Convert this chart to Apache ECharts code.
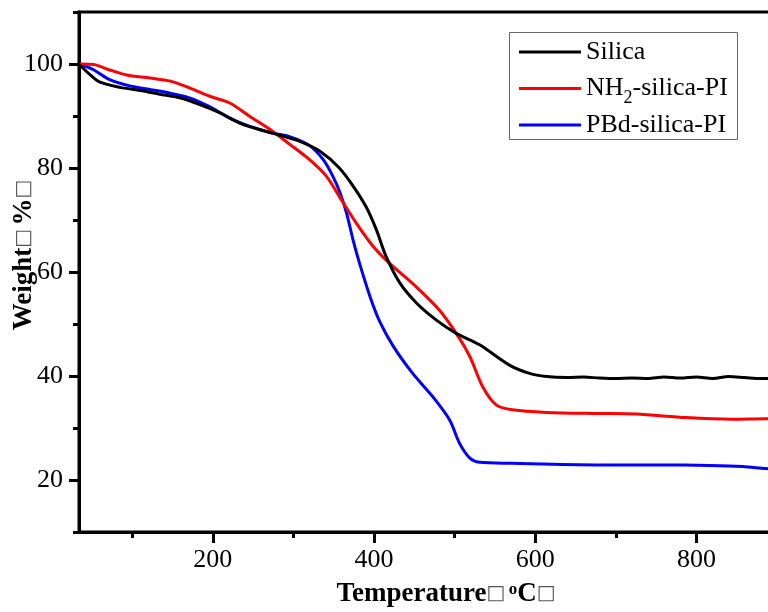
<!DOCTYPE html>
<html>
<head>
<meta charset="utf-8">
<script src="https://cdn.jsdelivr.net/npm/echarts@6/dist/echarts.min.js"></script>
<style>html,body{margin:0;padding:0;background:#fff;}#c{width:768px;height:612px;}</style>
</head>
<body>
<div id="c"></div>
<script>
const seriesNames = ['Silica', 'NH2-silica-PI', 'PBd-silica-PI'];
const seriesColors = ['#000000', '#ff0000', '#0000ff'];

const tSilica = [35,48,60,85,110,134,159,184,209,234,258,283,308,333,357,376,391,403,415,432,453,477,502,531,568,593,614,640,660,680,700,720,740,760,780,800,820,840,860,880,900];
const wSilica = [99.8,97.9,96.5,95.5,94.9,94.2,93.5,92.2,90.6,88.6,87.4,86.3,85.1,83.2,80.0,76.1,72.3,68.1,63.0,57.9,54.0,50.8,48.2,46.0,42.1,40.5,39.9,39.7,39.8,39.6,39.5,39.6,39.5,39.8,39.6,39.8,39.5,39.9,39.7,39.5,39.5];

const tNH2 = [35,52,73,93,122,147,171,196,221,246,271,296,320,341,357,378,399,419,452,481,502,519,535,552,572,614,676,725,787,845,886,900];
const wNH2 = [100,99.9,98.8,97.9,97.3,96.7,95.4,93.8,92.5,89.9,87.4,84.5,81.6,78.4,74.5,69.4,64.9,61.7,57.2,52.7,48.2,43.7,37.9,34.4,33.5,33.0,32.8,32.7,32.0,31.7,31.8,31.8];

const tPBd = [35,52,72,97,122,147,171,196,221,246,271,296,320,337,349,358,366,374,382,395,407,424,448,473,494,506,519,531,572,676,754,816,857,886,900];
const wPBd = [100,98.9,97.0,95.8,95.1,94.4,93.5,91.8,89.6,88.0,86.8,86.0,84.3,81.6,78.4,75.2,71.3,66.2,61.7,55.3,50.5,45.7,40.5,36.0,31.5,27.1,24.2,23.4,23.2,22.9,22.9,22.8,22.6,22.2,22.1];

const xMajorTicks = [200, 400, 600, 800];
const xMinorTicks = [100, 300, 500, 700];
const yMajorTicks = [20, 40, 60, 80, 100];
const yMinorTicks = [10, 30, 50, 70, 90, 110];

const FONT = 'Liberation Serif, Times New Roman, serif';
const pairs = (xs, ys) => xs.map((x, i) => [x, ys[i]]);
const allData = [pairs(tSilica, wSilica), pairs(tNH2, wNH2), pairs(tPBd, wPBd)];

const chart = echarts.init(document.getElementById('c'), null, {renderer: 'canvas'});

const legendBase = {
  orient: 'vertical', left: 519, padding: 0, itemWidth: 62, itemHeight: 3,
  icon: 'rect', selectedMode: false, itemGap: 0,
  textStyle: {fontFamily: FONT, fontSize: 26, lineHeight: 26, color: '#000'}
};

const option = {
  animation: false,
  backgroundColor: '#fff',
  grid: {left: 79, right: -9, top: 12, bottom: 80, show: true, borderColor: '#000', borderWidth: 3, containLabel: false, outerBoundsMode: 'none'},
  graphic: [{
    type: 'rect', z: 1,
    shape: {x: 509.5, y: 32.5, width: 228, height: 107},
    style: {fill: '#fff', stroke: '#666', lineWidth: 1}
  }],
  legend: [
    Object.assign({}, legendBase, {top: 39, data: [seriesNames[0]]}),
    Object.assign({}, legendBase, {top: 70, data: [seriesNames[1]],
      formatter: '{a|NH}{s|2}{a|-silica-PI}',
      textStyle: {fontFamily: FONT, fontSize: 26, lineHeight: 26, color: '#000',
        rich: {
          a: {fontFamily: FONT, fontSize: 26, lineHeight: 26, color: '#000'},
          s: {fontFamily: FONT, fontSize: 18, lineHeight: 26, padding: [19, 0, 0, 0], color: '#000'}
        }}
    }),
    Object.assign({}, legendBase, {top: 112, data: [seriesNames[2]]})
  ],
  xAxis: [{
    type: 'value', min: 34, max: 900, position: 'bottom',
    splitLine: {show: false},
    axisLine: {show: true, onZero: false, lineStyle: {color: '#000', width: 3}},
    axisTick: {show: true, length: 11, customValues: xMajorTicks, lineStyle: {color: '#000', width: 3}},
    axisLabel: {show: true, customValues: xMajorTicks, margin: 15, fontFamily: FONT, fontSize: 26, color: '#000'},
    name: '{t|Temperature}{box|□} {sup|o}{t|C}{box|□}',
    nameLocation: 'middle', nameGap: 49, nameMoveOverlap: false,
    nameTextStyle: {padding: [0, 0, 0, 36], lineHeight: 26,
      rich: {
        t: {fontFamily: FONT, fontSize: 27, fontWeight: 'bold', color: '#000', lineHeight: 26},
        box: {fontFamily: 'DejaVu Sans', fontSize: 20, color: '#555', lineHeight: 26},
        sup: {fontFamily: FONT, fontSize: 17, fontWeight: 'bold', color: '#000', lineHeight: 20, verticalAlign: 'top'}
      }}
  }, {
    type: 'value', min: 34, max: 900, position: 'bottom', gridIndex: 0,
    splitLine: {show: false}, axisLine: {show: false},
    axisTick: {show: true, length: 6, customValues: xMinorTicks, lineStyle: {color: '#000', width: 3}},
    axisLabel: {show: false}
  }],
  yAxis: [{
    type: 'value', min: 10, max: 110, position: 'left',
    splitLine: {show: false},
    axisLine: {show: true, onZero: false, lineStyle: {color: '#000', width: 3}},
    axisTick: {show: true, length: 10, customValues: yMajorTicks, lineStyle: {color: '#000', width: 3}},
    axisLabel: {show: true, customValues: yMajorTicks, margin: 16, fontFamily: FONT, fontSize: 26, color: '#000'},
    name: '{t|Weight}{box|□} {t|%}{box|□}',
    nameLocation: 'middle', nameGap: 42, nameMoveOverlap: false,
    nameTextStyle: {padding: [0, 0, 0, 34], lineHeight: 26,
      rich: {
        t: {fontFamily: FONT, fontSize: 27, fontWeight: 'bold', color: '#000', lineHeight: 26},
        box: {fontFamily: 'DejaVu Sans', fontSize: 20, color: '#555', lineHeight: 26}
      }}
  }, {
    type: 'value', min: 10, max: 110, position: 'left', gridIndex: 0,
    splitLine: {show: false}, axisLine: {show: false},
    axisTick: {show: true, length: 6, customValues: yMinorTicks, lineStyle: {color: '#000', width: 3}},
    axisLabel: {show: false}
  }],
  series: seriesNames.map((name, i) => ({
    name: name, type: 'line', xAxisIndex: 0, yAxisIndex: 0,
    data: allData[i], showSymbol: false, symbol: 'none',
    smooth: 0.3,
    color: seriesColors[i],
    lineStyle: {color: seriesColors[i], width: 3},
    z: 3 - i
  }))
};
chart.setOption(option);
</script>
</body>
</html>
